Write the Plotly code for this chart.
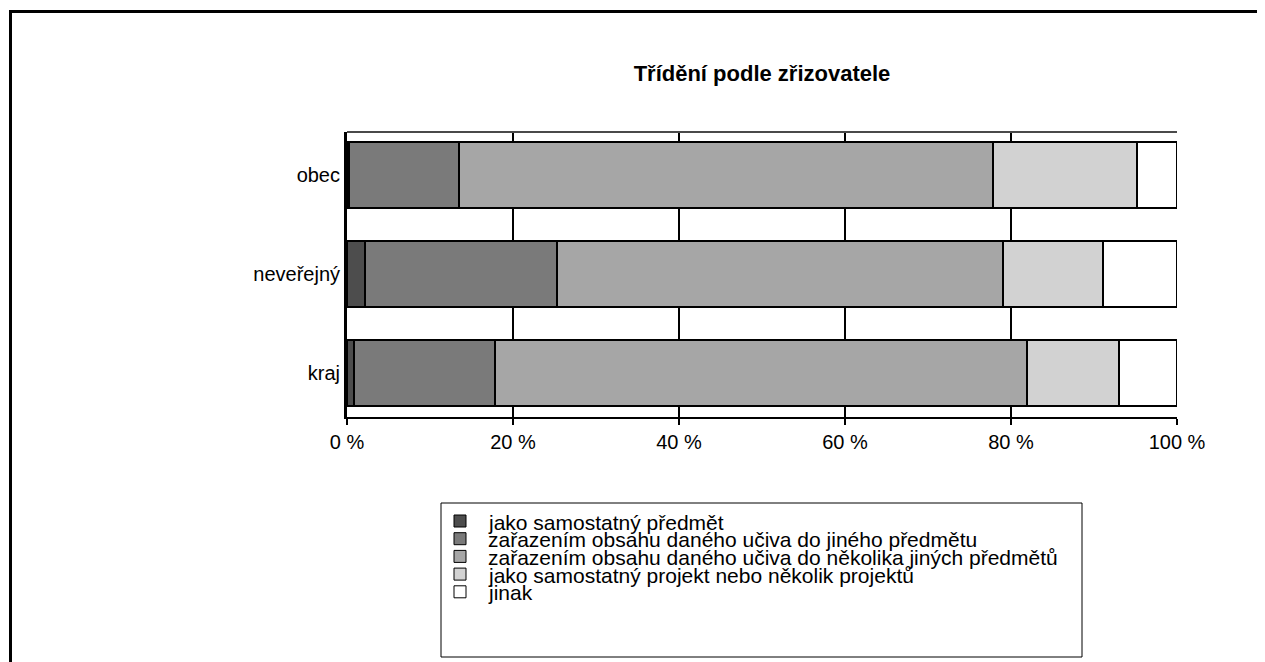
import plotly.graph_objects as go

categories = ["obec", "neveřejný", "kraj"]
series_names = [
    "jako samostatný předmět",
    "zařazením obsahu daného učiva do jiného předmětu",
    "zařazením obsahu daného učiva do několika jiných předmětů",
    "jako samostatný projekt nebo několik projektů",
    "jinak",
]
s1 = [0.3, 2.2, 0.9]
s2 = [13.2, 23.1, 16.9]
s3 = [64.3, 53.7, 64.1]
s4 = [17.4, 12.1, 11.1]
s5 = [4.8, 8.9, 7.0]
series_values = [s1, s2, s3, s4, s5]
colors = ["#4d4d4d", "#7a7a7a", "#a6a6a6", "#d2d2d2", "#ffffff"]
tick_vals = [0, 20, 40, 60, 80, 100]
tick_text = ["0 %", "20 %", "40 %", "60 %", "80 %", "100 %"]
title_text = "Třídění podle zřizovatele"

# page has an 8px body margin; work in page pixels and subtract it
O = 8
PAGE_W, PAGE_H = 1265, 662
W, H = PAGE_W - O, PAGE_H - O
L, R, T, B = 347, 1177, 132, 417  # plot area in page pixels
FONT = "Liberation Sans, Arial, sans-serif"


def px(x):
    return (x - L) / (R - L)


def py(y):
    return (B - y) / (B - T)


fig = go.Figure()
for name, vals, col in zip(series_names, series_values, colors):
    fig.add_trace(go.Bar(
        y=categories, x=vals, name=name, orientation="h",
        marker=dict(color=col, line=dict(color="#000000", width=2)),
        showlegend=False,
    ))

shapes = []
# outer frame
shapes.append(dict(type="rect", xref="paper", yref="paper",
                   x0=px(10.5), x1=px(1320), y0=py(11.5), y1=py(720),
                   line=dict(color="#000000", width=3), fillcolor="rgba(0,0,0,0)", layer="above"))
# top border of plot area
shapes.append(dict(type="line", xref="paper", yref="paper", x0=0, x1=1, y0=1, y1=1,
                   line=dict(color="#4a4a4a", width=2), layer="above"))
# legend box
shapes.append(dict(type="rect", xref="paper", yref="paper",
                   x0=px(441), x1=px(1082), y0=py(503), y1=py(657),
                   line=dict(color="#000000", width=1), fillcolor="#ffffff"))

annotations = []
row0, step = 521, 17.7
for i, (name, col) in enumerate(zip(series_names, colors)):
    yc = row0 + i * step
    shapes.append(dict(type="rect", xref="paper", yref="paper",
                       x0=px(454), x1=px(466), y0=py(yc - 6), y1=py(yc + 6),
                       line=dict(color="#000000", width=1), fillcolor=col))
    annotations.append(dict(xref="paper", yref="paper", x=px(486), y=py(yc + 1),
                            xanchor="left", yanchor="middle", showarrow=False,
                            text=name, font=dict(family=FONT, size=21, color="#000000")))

fig.update_layout(
    width=W, height=H,
    margin=dict(l=L - O, r=W - (R - O), t=T - O, b=H - (B - O), pad=0),
    barmode="stack", bargap=0.333,
    paper_bgcolor="#ffffff", plot_bgcolor="#ffffff",
    font=dict(family=FONT, size=20, color="#000000"),
    title=dict(text="<b>" + title_text + "</b>", x=0.5, xref="paper", y=1 - (73 - O) / H,
               yref="container", xanchor="center", yanchor="middle",
               font=dict(family=FONT, size=22, color="#000000")),
    xaxis=dict(range=[0, 100], tickvals=tick_vals, ticktext=tick_text,
               showgrid=True, gridcolor="#000000", gridwidth=2,
               showline=True, linecolor="#000000", linewidth=2,
               ticks="outside", ticklen=6, tickwidth=2, tickcolor="#000000",
               zeroline=False, fixedrange=True,
               tickfont=dict(family=FONT, size=20, color="#000000")),
    yaxis=dict(categoryorder="array", categoryarray=categories,
               range=[2.444, -0.434], showgrid=False,
               showline=True, linecolor="#000000", linewidth=3,
               ticks="", ticklabelstandoff=0, fixedrange=True,
               tickfont=dict(family=FONT, size=20, color="#000000")),
    shapes=shapes, annotations=annotations,
    showlegend=False,
)

fig.write_html("out.html", config={"displayModeBar": False})
